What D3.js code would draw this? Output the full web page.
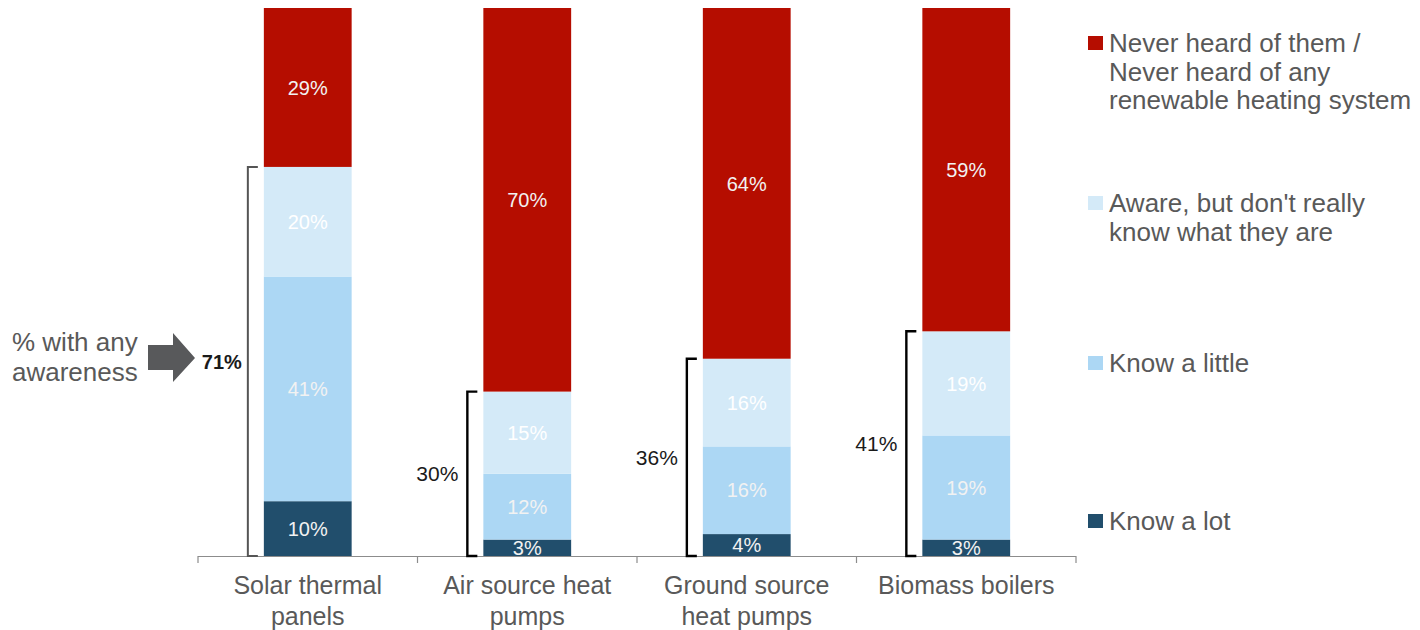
<!DOCTYPE html>
<html>
<head>
<meta charset="utf-8">
<script src="https://cdn.jsdelivr.net/npm/d3@7"></script>
<style>
  html, body { margin: 0; padding: 0; background: #fff; }
  svg { display: block; font-family: "Liberation Sans", Arial, sans-serif; }
</style>
</head>
<body>
<svg id="chart" width="1420" height="630"></svg>
<script>
// ---- data ----
const categories = [["Solar thermal", "panels"], ["Air source heat", "pumps"], ["Ground source", "heat pumps"], ["Biomass boilers"]];
const categoryKeys = ["Solar thermal panels", "Air source heat pumps", "Ground source heat pumps", "Biomass boilers"];
const seriesNames = ["Know a lot", "Know a little", "Aware, but don't really know what they are", "Never heard of them / Never heard of any renewable heating system"];
const knowALot    = [10, 3, 4, 3];
const knowALittle = [41, 12, 16, 19];
const awareOnly   = [20, 15, 16, 19];
const neverHeard  = [29, 70, 64, 59];
const anyAwareness = [71, 30, 36, 41];
const legendLines = [["Never heard of them /", "Never heard of any", "renewable heating system"], ["Aware, but don't really", "know what they are"], ["Know a little"], ["Know a lot"]];
const colors = ["#214E6C", "#ACD7F4", "#D4EAF8", "#B50D00"];

// ---- layout ----
const svg = d3.select("#chart");
const x = d3.scaleBand().domain(categoryKeys).range([198, 1076]).paddingInner(0.6).paddingOuter(0.3);
const y = d3.scaleLinear().domain([0, 100]).range([556, 8]);

const seriesValues = [knowALot, knowALittle, awareOnly, neverHeard];
const rows = categoryKeys.map((c, i) => {
  const r = { cat: c };
  seriesNames.forEach((s, j) => r[s] = seriesValues[j][i]);
  return r;
});
const stack = d3.stack().keys(seriesNames)(rows);

// bars
const g = svg.append("g");
stack.forEach((layer, li) => {
  g.selectAll(null).data(layer).enter().append("rect")
    .attr("x", d => x(d.data.cat))
    .attr("width", x.bandwidth())
    .attr("y", d => y(d[1]))
    .attr("height", d => y(d[0]) - y(d[1]))
    .attr("fill", colors[li]);
  g.selectAll(null).data(layer).enter().append("text")
    .attr("x", d => x(d.data.cat) + x.bandwidth() / 2)
    .attr("y", d => (y(d[0]) + y(d[1])) / 2)
    .attr("dy", "0.36em")
    .attr("text-anchor", "middle")
    .attr("font-size", 20)
    .attr("fill", li === 2 ? "#ffffff" : "#f2f2f2")
    .text(d => (d[1] - d[0]) + "%");
});

// axis
const step = x.step();
const axisG = svg.append("g");
axisG.append("line").attr("x1", 198).attr("x2", 1076).attr("y1", 556.5).attr("y2", 556.5)
  .attr("stroke", "#8c8c8c").attr("stroke-width", 1.2);
d3.range(categoryKeys.length + 1).forEach(i => {
  const tx = x.range()[0] + i * step;
  axisG.append("line").attr("x1", tx).attr("x2", tx).attr("y1", 556).attr("y2", 563)
    .attr("stroke", "#8c8c8c").attr("stroke-width", 1.2);
});
categories.forEach((lines, i) => {
  const cx = x(categoryKeys[i]) + x.bandwidth() / 2;
  const t = axisG.append("text").attr("x", cx).attr("y", 585).attr("text-anchor", "middle")
    .attr("font-size", 25).attr("fill", "#595959");
  lines.forEach((l, k) => t.append("tspan").attr("x", cx).attr("dy", k === 0 ? "0.36em" : 31).text(l));
});

// brackets
const brG = svg.append("g");
anyAwareness.forEach((v, i) => {
  const bx = x(categoryKeys[i]) - 16;
  const top = y(v), bot = y(0);
  const col = i === 0 ? "#555555" : "#000000";
  brG.append("path")
    .attr("d", `M${bx + 10},${top} H${bx} V${bot} H${bx + 10}`)
    .attr("fill", "none").attr("stroke", col).attr("stroke-width", i === 0 ? 2 : 2.4);
  brG.append("text")
    .attr("x", bx - (i === 0 ? 6 : 9))
    .attr("y", (top + bot) / 2)
    .attr("dy", "0.36em")
    .attr("text-anchor", "end")
    .attr("font-size", i === 0 ? 20 : 21)
    .attr("font-weight", i === 0 ? "bold" : "normal")
    .attr("fill", "#1a1a1a")
    .text(v + "%");
});

// annotation arrow + text
const annG = svg.append("g");
annG.append("path")
  .attr("d", "M148,345 H173 V333 L195,358 L173,382 V370 H148 Z")
  .attr("fill", "#58595B");
const at = annG.append("text").attr("x", 12).attr("y", 342).attr("font-size", 26).attr("fill", "#595959");
at.append("tspan").attr("x", 12).attr("dy", "0.36em").text("% with any");
at.append("tspan").attr("x", 12).attr("dy", 30).text("awareness");

// legend
const legendY = [43, 203, 363, 521];
const legendColors = [colors[3], colors[2], colors[1], colors[0]];
const lg = svg.append("g");
legendLines.forEach((lines, i) => {
  lg.append("rect").attr("x", 1088).attr("y", legendY[i] - 7).attr("width", 15).attr("height", 14)
    .attr("fill", legendColors[i]);
  const t = lg.append("text").attr("x", 1109).attr("y", legendY[i])
    .attr("font-size", 26).attr("fill", "#595959");
  lines.forEach((l, k) => t.append("tspan").attr("x", 1109).attr("dy", k === 0 ? "0.36em" : 28.5).text(l));
});
</script>
</body>
</html>
